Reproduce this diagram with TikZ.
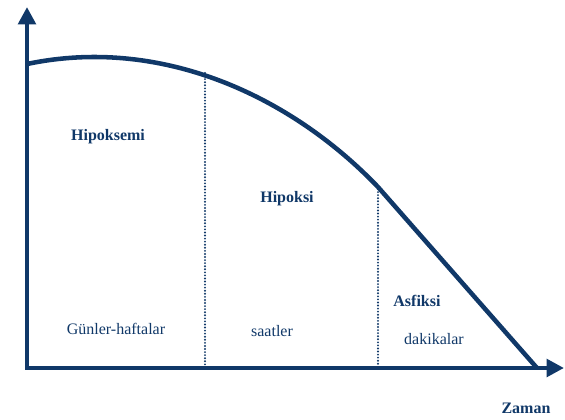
\documentclass[tikz,border=0pt]{standalone}
\usepackage{fontspec}
\setmainfont{Liberation Serif}
\usetikzlibrary{arrows.meta}
\definecolor{navy}{RGB}{16,56,104}
\tikzset{
  axis/.style={draw=navy, line width=3.2pt, -{Triangle[length=13pt,width=13pt]}},
  curve/.style={draw=navy, line width=3.4pt},
  divider/.style={draw=navy, line width=1.6pt, dash pattern=on 0pt off 2.3pt, line cap=round},
  lbl/.style={text=navy, font=\fontsize{12}{14}\selectfont, inner sep=0pt},
  blbl/.style={lbl, font=\fontsize{12}{14}\selectfont\bfseries},
}
\begin{document}
\begin{tikzpicture}[x=0.75pt,y=-0.75pt]
\useasboundingbox (0,0) rectangle (565,419);
\coordinate (O) at (27,368);
\coordinate (ytip) at (27,7);
\coordinate (xtip) at (564,368);
\coordinate (c0) at (27,64);
\coordinate (c1) at (378,187);
\coordinate (c2) at (537,368);
\coordinate (d1top) at (205,73);
\coordinate (d1bot) at (205,366);
\coordinate (d2top) at (378,189);
\coordinate (d2bot) at (378,366);
\draw[divider] (d1top) -- (d1bot);
\draw[divider] (d2top) -- (d2bot);
\draw[curve] (c0) .. controls (160,36) and (290,95) .. (c1) -- (c2);
\draw[axis] (O) -- (ytip);
\draw[axis] ([xshift=-1.2pt]O) -- (xtip);
\node[blbl] (hipoksemi) at (108,137) {Hipoksemi};
\node[blbl] (hipoksi) at (287,199) {Hipoksi};
\node[blbl] (asfiksi) at (417,301) {Asfiksi};
\node[lbl] (gunler) at (116,329) {Günler-haftalar};
\node[lbl] (saatler) at (272,331) {saatler};
\node[lbl] (dakikalar) at (434,339) {dakikalar};
\node[blbl] (zaman) at (526,408) {Zaman};
\end{tikzpicture}
\end{document}
